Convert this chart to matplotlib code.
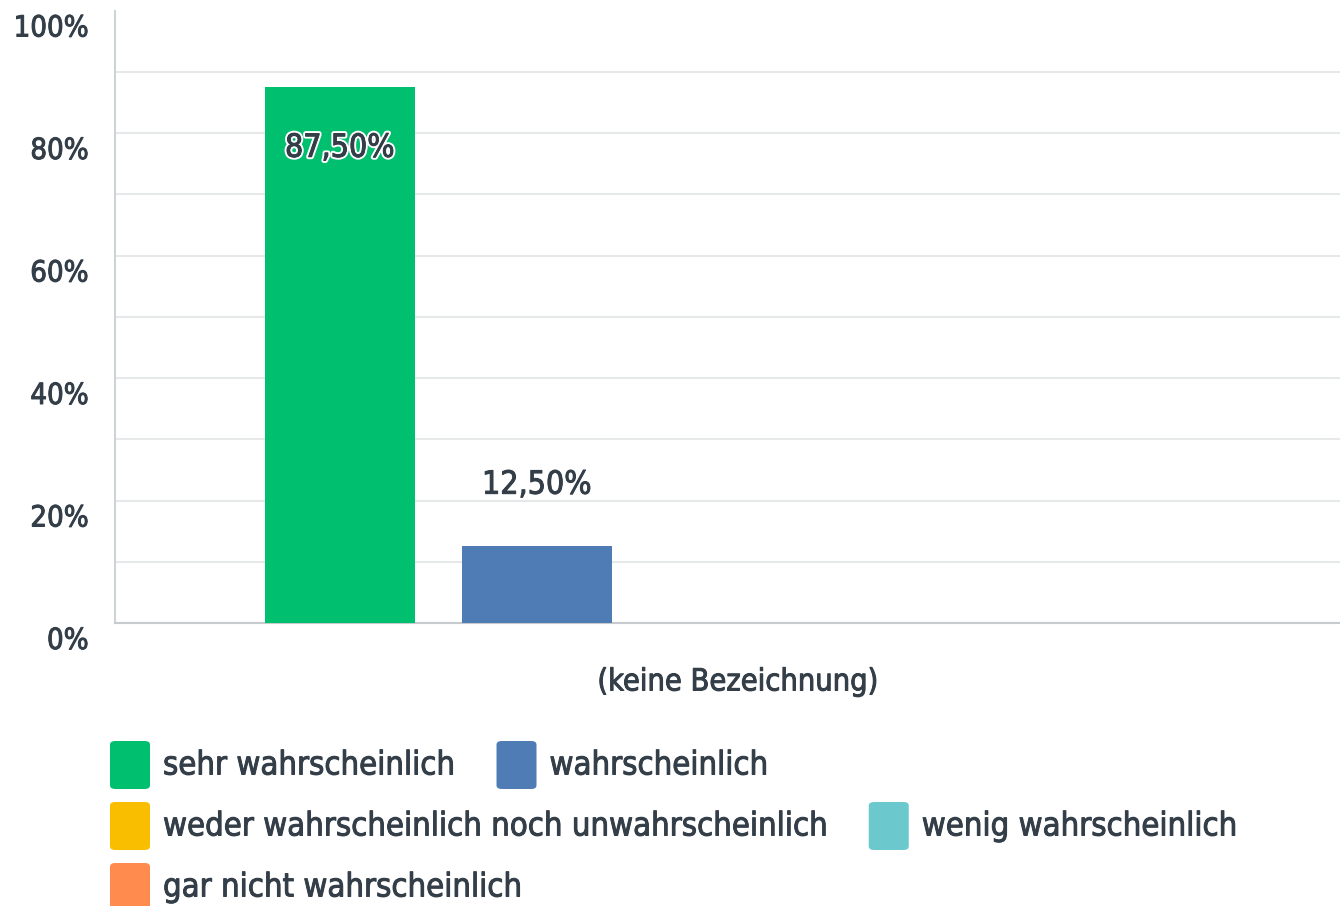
import matplotlib
matplotlib.use("Agg")
import matplotlib.pyplot as plt
import matplotlib.patheffects as pe
import matplotlib.transforms as mtransforms
from matplotlib import font_manager
from matplotlib.patches import FancyBboxPatch
import numpy as np

# data
kategorie = "(keine Bezeichnung)"
antworten = ["sehr wahrscheinlich", "wahrscheinlich",
             "weder wahrscheinlich noch unwahrscheinlich",
             "wenig wahrscheinlich", "gar nicht wahrscheinlich"]
werte = [87.5, 12.5, 0.0, 0.0, 0.0]
farben = ["#00bf6f", "#507cb6", "#f9be00", "#6bc8cd", "#ff8b4f"]
yticks = [0, 20, 40, 60, 80, 100]
legend_rows = [[0, 1], [2, 3], [4]]

installed = {f.name for f in font_manager.fontManager.ttflist}
if "Liberation Sans Narrow" in installed:
    plt.rcParams["font.family"] = ["Liberation Sans Narrow", "DejaVu Sans"]
else:
    plt.rcParams["font.family"] = ["DejaVu Sans"]
    plt.rcParams["font.stretch"] = "condensed"

textfarbe = "#333e48"
# slightly heavier strokes, like the medium weight in the original
medium = [pe.withStroke(linewidth=0.7, foreground=textfarbe)]

W, H = 1340, 906
fig = plt.figure(figsize=(W / 100, H / 100), dpi=100)
ax = fig.add_axes([115 / W, 1 - 623 / H, 1 - 115 / W, (623 - 10.5) / H])

x = np.arange(len(werte))
ax.bar(x, werte, width=0.76, color=farben, zorder=3)

for xi, v in zip(x, werte):
    if v <= 0:
        continue
    label = f"{v:.2f}%".replace(".", ",")
    if v > 50:
        ax.text(xi, v - 10, label, ha="center", va="center",
                fontsize=23, color=textfarbe, zorder=4,
                path_effects=[pe.withStroke(linewidth=3.5, foreground="white"),
                              pe.withStroke(linewidth=0.7, foreground=textfarbe)])
    else:
        ax.text(xi, v + 10, label, ha="center", va="center",
                fontsize=23, color=textfarbe, zorder=4, path_effects=medium)

ax.set_xlim(2 - 619 / 197, 2 + 606 / 197)
ax.set_ylim(0, 100)
ax.set_yticks(yticks)
ax.set_yticklabels([f"{t}%" for t in yticks], fontsize=21, color=textfarbe)
ax.set_yticks(np.arange(10, 100, 20), minor=True)
ax.tick_params(axis="y", which="both", length=0, pad=19)
shift = mtransforms.ScaledTranslation(0, -15 / 100, fig.dpi_scale_trans)
for lab in ax.get_yticklabels():
    lab.set_transform(lab.get_transform() + shift)
    lab.set_path_effects(medium)
ax.set_xticks([])
ax.grid(axis="y", which="both", color="#e6e8ea", linewidth=1.5, zorder=0)
ax.yaxis.get_major_ticks()[-1].gridline.set_visible(False)
for s in ["top", "right"]:
    ax.spines[s].set_visible(False)
ax.spines["left"].set_color("#d0d3d6")
ax.spines["bottom"].set_color("#c8cbce")
ax.spines["left"].set_linewidth(1.5)
ax.spines["bottom"].set_linewidth(1.5)

fig.text(738 / W, 1 - 682 / H, kategorie, ha="center", va="center",
         fontsize=22, color=textfarbe, path_effects=medium)

# legend, flowing rows
fig.canvas.draw()
renderer = fig.canvas.get_renderer()
row_y = [765, 826, 887]
for row, yc in zip(legend_rows, row_y):
    xp = 110
    for i in row:
        box = FancyBboxPatch((xp / W, (H - yc - 24) / H), 40 / W, 48 / H,
                             boxstyle="round,pad=0,rounding_size=0.004",
                             transform=fig.transFigure, facecolor=farben[i],
                             edgecolor="none")
        fig.add_artist(box)
        t = fig.text((xp + 53) / W, 1 - yc / H, antworten[i], ha="left", va="center",
                     fontsize=23.5, color=textfarbe, path_effects=medium)
        bb = t.get_window_extent(renderer=renderer)
        xp = bb.x1 + 42

fig.savefig("out.png", dpi=100)
